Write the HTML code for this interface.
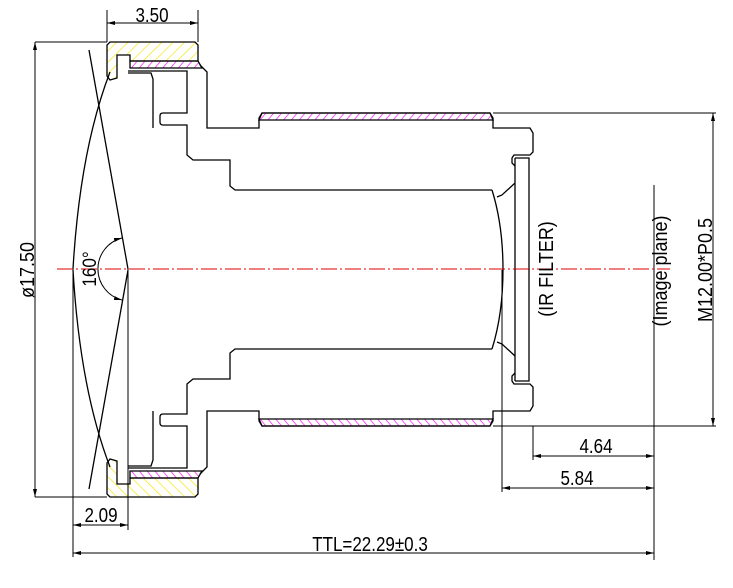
<!DOCTYPE html>
<html><head><meta charset="utf-8"><style>
html,body{margin:0;padding:0;background:#fff;}
svg{display:block;}
text{font-family:"Liberation Sans",sans-serif;fill:#000;}
</style></head><body>
<svg width="733" height="588" viewBox="0 0 733 588" xmlns="http://www.w3.org/2000/svg">
<defs>
<pattern id="yh" patternUnits="userSpaceOnUse" width="8" height="8" patternTransform="rotate(45)">
<line x1="0" y1="0" x2="0" y2="8" stroke="#f0e800" stroke-width="1.3"/></pattern>
<pattern id="mh" patternUnits="userSpaceOnUse" width="6" height="6" patternTransform="rotate(40)">
<line x1="0" y1="0" x2="0" y2="6" stroke="#ff00ff" stroke-width="1.3"/></pattern>
<marker id="ar" markerWidth="8" markerHeight="6" refX="8" refY="3" orient="auto-start-reverse" markerUnits="userSpaceOnUse">
<path d="M0,1 L8,3 L0,5 Z" fill="#000"/></marker>
</defs>
<g fill="none" stroke="#000" stroke-width="1.3">
<g id="half">
<path d="M110,42 L195,42 L198,45 L198,61 L130,61 L130,55 L117,55 L117,78 L110,80 L107,76 L107,45 Z" fill="url(#yh)"/>
<path d="M130,61 L198,61 L202,68 L130,68 Z" fill="url(#mh)"/>
<path d="M128,73 L151,73 L153,79 L153,128"/>
<path d="M128,71 L187,71 L187,113 L163,113 Q160,113 160,116 L160,122 Q160,125 163,125 L187,125 L187,155 L193,160 L230,160 L230,186 L235,190 L492,190"/>
<path d="M200,65 L207,72 L207,128 L259,128 L259,118 L262,113 L490,113 L493,118 L493,128 L530,128 L533,133 L533,152 L530,155 L514,155 L512,158 L512,163 L515,166"/>
<path d="M262,113 L490,113 L493,120 L259,120 Z" fill="url(#mh)"/>
<line x1="493" y1="113" x2="716" y2="113" stroke-width="1"/>
<path d="M515,158 L529,158 L529,270 M515,158 L515,270"/>
<path d="M492,190 Q503,225 503,270"/>
<path d="M497,197 L502,195 L515,183"/>
<path d="M89,50 L128,269"/>
<path d="M110,72 Q80,150 73,269"/>
<line x1="35" y1="42" x2="107" y2="42" stroke-width="1"/>
</g>
<use href="#half" transform="matrix(1,0,0,-1,0,539)"/>
<path d="M122,238 A32,32 0 0 0 122,300" stroke-width="1" marker-start="url(#ar)" marker-end="url(#ar)"/>
<g stroke-width="1">
<line x1="35" y1="42" x2="35" y2="497" marker-start="url(#ar)" marker-end="url(#ar)"/>
<line x1="107" y1="10" x2="107" y2="42"/><line x1="198" y1="10" x2="198" y2="42"/>
<line x1="107" y1="23" x2="198" y2="23" marker-start="url(#ar)" marker-end="url(#ar)"/>
<line x1="713" y1="113" x2="713" y2="426" marker-start="url(#ar)" marker-end="url(#ar)"/>
<line x1="654" y1="185" x2="654" y2="560"/>
<line x1="533" y1="426" x2="533" y2="460"/>
<line x1="533" y1="456" x2="654" y2="456" marker-start="url(#ar)" marker-end="url(#ar)"/>
<line x1="502" y1="270" x2="502" y2="492"/>
<line x1="502" y1="488" x2="654" y2="488" marker-start="url(#ar)" marker-end="url(#ar)"/>
<line x1="73" y1="269" x2="73" y2="557"/>
<line x1="128" y1="269" x2="128" y2="530"/>
<line x1="73" y1="525" x2="128" y2="525" marker-start="url(#ar)" marker-end="url(#ar)"/>
<line x1="73" y1="553" x2="654" y2="553" marker-start="url(#ar)" marker-end="url(#ar)"/>
</g>
<line x1="57" y1="269" x2="670" y2="269" stroke="#e00000" stroke-width="1" stroke-dasharray="16,3,2,3"/>
</g>
<g font-size="20" text-anchor="middle">
<text transform="translate(152,22) scale(0.85,1)">3.50</text>
<text transform="translate(101,522) scale(0.85,1)">2.09</text>
<text transform="translate(596,453) scale(0.85,1)">4.64</text>
<text transform="translate(577,485) scale(0.85,1)">5.84</text>
<text transform="translate(370,551) scale(0.85,1)">TTL=22.29±0.3</text>
<text transform="translate(34,270) rotate(-90) scale(0.9,1)">ø17.50</text>
<text transform="translate(96,269) rotate(-90) scale(0.9,1)" font-size="19">160°</text>
<text transform="translate(553,269) rotate(-90) scale(0.9,1)">(IR  FILTER)</text>
<text transform="translate(667,271) rotate(-90) scale(0.9,1)">(Image plane)</text>
<text transform="translate(712,270) rotate(-90) scale(0.9,1)">M12.00*P0.5</text>
</g>
</svg>
</body></html>
